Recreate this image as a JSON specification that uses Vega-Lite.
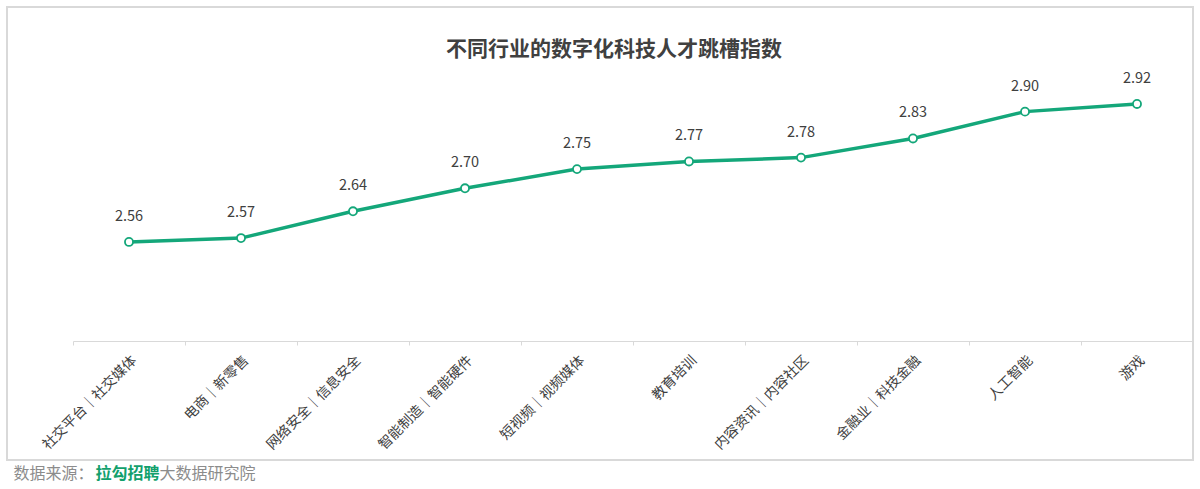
{
  "$schema": "https://vega.github.io/schema/vega-lite/v6.json",
  "width": 1186,
  "height": 453,
  "autosize": {"type": "none"},
  "padding": {"left": 7, "top": 7, "right": 7, "bottom": 29},
  "background": "white",
  "title": {
    "text": "不同行业的数字化科技人才跳槽指数",
    "font": "Noto Sans CJK SC",
    "fontSize": 21,
    "fontWeight": "bold",
    "color": "#404040",
    "anchor": "middle",
    "baseline": "middle",
    "offset": -64,
    "dx": 14
  },
  "data": {
    "values": [
      {"industry": "社交平台｜社交媒体", "index": 2.56},
      {"industry": "电商｜新零售", "index": 2.57},
      {"industry": "网络安全｜信息安全", "index": 2.64},
      {"industry": "智能制造｜智能硬件", "index": 2.70},
      {"industry": "短视频｜视频媒体", "index": 2.75},
      {"industry": "教育培训", "index": 2.77},
      {"industry": "内容资讯｜内容社区", "index": 2.78},
      {"industry": "金融业｜科技金融", "index": 2.83},
      {"industry": "人工智能", "index": 2.90},
      {"industry": "游戏", "index": 2.92}
    ]
  },
  "encoding": {
    "x": {
      "field": "industry",
      "type": "ordinal",
      "sort": null,
      "scale": {"type": "band", "range": [66, 1186], "paddingInner": 0, "paddingOuter": 0},
      "axis": {
        "title": "大数据研究院",
        "titleX": 152,
        "titleY": 132,
        "titleAlign": "left",
        "titleBaseline": "middle",
        "titleAngle": 0,
        "titleFont": "Noto Sans CJK SC",
        "titleFontSize": 16,
        "titleFontWeight": "normal",
        "titleColor": "#8c8c8c",
        "labelAngle": -45,
        "labelFont": "Noto Sans CJK SC",
        "labelFontSize": 14,
        "labelColor": "#404040",
        "labelPadding": 8,
        "labelLimit": 0,
        "tickBand": "extent",
        "tickSize": 4,
        "tickColor": "#d9d9d9",
        "domainColor": "#d9d9d9",
        "offset": -119,
        "grid": false
      }
    }
  },
  "layer": [
    {
      "mark": {"type": "line", "color": "#14a77a", "strokeWidth": 3.5},
      "encoding": {
        "y": {
          "field": "index",
          "type": "quantitative",
          "scale": {"domain": [1.991, 3.173], "nice": false, "zero": false},
          "axis": {
            "orient": "left",
            "title": "数据来源：",
            "titleX": 6,
            "titleY": 466,
            "titleAngle": 0,
            "titleAlign": "left",
            "titleBaseline": "middle",
            "titleFont": "Noto Sans CJK SC",
            "titleFontSize": 16,
            "titleFontWeight": "normal",
            "titleColor": "#8c8c8c",
            "labels": false,
            "ticks": false,
            "domain": false,
            "grid": false
          }
        }
      }
    },
    {
      "mark": {"type": "point", "filled": true, "fill": "white", "stroke": "#14a77a", "strokeWidth": 1.8, "size": 65, "opacity": 1},
      "encoding": {
        "y": {
          "field": "index",
          "type": "quantitative",
          "scale": {"domain": [1.991, 3.173], "nice": false, "zero": false},
          "axis": {
            "orient": "right",
            "title": "拉勾招聘",
            "titleX": -1098,
            "titleY": 466,
            "titleAngle": 0,
            "titleAlign": "left",
            "titleBaseline": "middle",
            "titleFont": "Noto Sans CJK SC",
            "titleFontSize": 16,
            "titleFontWeight": "bold",
            "titleColor": "#12a06c",
            "labels": false,
            "ticks": false,
            "domain": false,
            "grid": false
          }
        }
      }
    },
    {
      "mark": {"type": "text", "dy": -25, "font": "Noto Sans CJK SC", "fontSize": 14.5, "color": "#404040", "baseline": "middle"},
      "encoding": {
        "y": {
          "field": "index",
          "type": "quantitative",
          "scale": {"domain": [1.991, 3.173], "nice": false, "zero": false},
          "axis": null
        },
        "text": {"field": "index", "type": "quantitative", "format": ".2f"}
      }
    }
  ],
  "resolve": {"scale": {"y": "independent"}, "axis": {"y": "independent"}},
  "config": {
    "view": {"stroke": "#d9d9d9", "strokeWidth": 2}
  }
}
